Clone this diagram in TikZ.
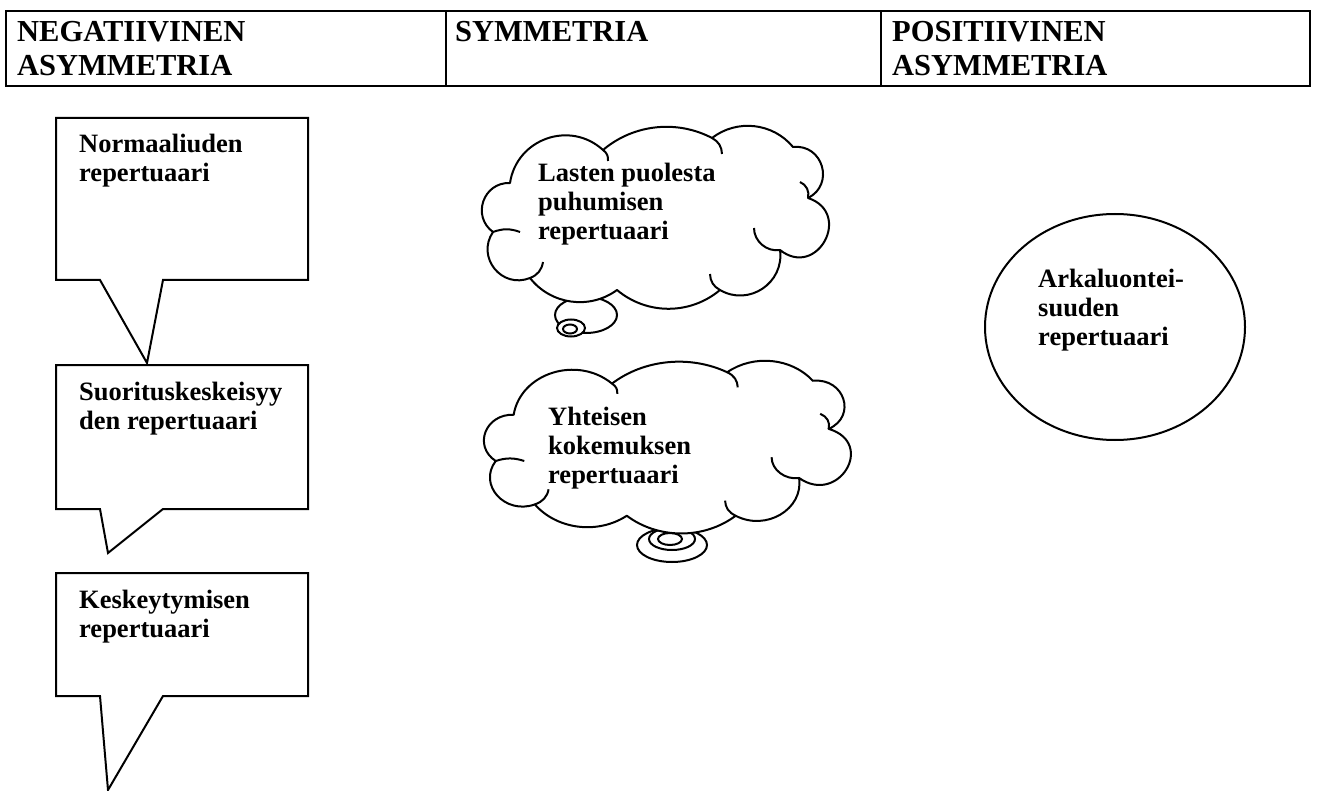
\documentclass[tikz,border=0pt]{standalone}
\usepackage{fontspec}
\setmainfont{Liberation Serif}

\newcommand{\textrows}[1]{\begin{tabular}[t]{@{}l@{}}#1\end{tabular}}

\tikzset{
  outline/.style={draw, line width=2pt},
  repert/.style={anchor=base west, inner sep=0pt, font=\bfseries\fontsize{26.5}{29}\selectfont},
  colhead/.style={anchor=base west, inner sep=0pt, font=\bfseries\fontsize{30.5}{34}\selectfont},
  thought/.pic={
    \draw[outline, fill=white, line join=round]
      (-146,-31) to[bend left=62, looseness=1.16] (-53,-64)
      to[bend left=34, looseness=0.93] (56,-76)
      to[bend left=44, looseness=0.99] (137,-67)
      to[bend left=80, looseness=1.45] (152,-16)
      to[bend left=100, looseness=2.06] (124,36)
      to[bend left=64, looseness=1.18] (64,76)
      to[bend left=40, looseness=0.97] (-39,76)
      to[bend left=44, looseness=0.99] (-126,64)
      to[bend left=73, looseness=1.32] (-163,18)
      to[bend left=73, looseness=1.32] (-146,-31) -- cycle;
    \draw[line width=2pt]
      (-53,-64) to[bend left=30] (-48,-53)
      (56,-76) to[bend left=30] (66,-60)
      (152,-16) to[bend right=40] (144,-32)
      (124,36) to[bend left=50] (98,14)
      (64,76) to[bend left=30] (54,60)
      (-126,64) to[bend right=30] (-113,48)
      (-163,18) to[bend left=20] (-136,18);
  }
}

\begin{document}
\begin{tikzpicture}[x=1pt, y=-1pt]
\useasboundingbox (0,0) rectangle (1319,791);

\draw[line width=1.8pt] (6,11) rectangle (1310,86) (446,11) -- (446,86) (881,11) -- (881,86);
\node[colhead] (negat) at (17,42) {\textrows{NEGATIIVINEN\\ASYMMETRIA}};
\node[colhead] (symm) at (455,42) {SYMMETRIA};
\node[colhead] (posit) at (892,42) {\textrows{POSITIIVINEN\\ASYMMETRIA}};

\foreach \ytop/\ybot/\tipx/\tipy in {118/280/147/363, 365/509/108/553, 573/696/108/790}
  \draw[outline] (56,\ytop) -- (308,\ytop) -- (308,\ybot) -- (163,\ybot) -- (\tipx,\tipy) -- (100,\ybot) -- (56,\ybot) -- cycle;

\node[repert] (normaali) at (79,153) {\textrows{Normaaliuden\\repertuaari}};
\node[repert] (suoritus) at (79,400) {\textrows{Suorituskeskeisyy\\den repertuaari}};
\node[repert] (keskeyt) at (79,608) {\textrows{Keskeytymisen\\repertuaari}};

% bubbles under the clouds
\foreach \cx/\cy/\rx/\ry in {586/315/31/18, 571/328/14/8.5, 570/329/7/4.5, 672/545/35/17, 672/539/23/11, 670/539/12/6}
  \draw[outline, fill=white] (\cx,\cy) ellipse [x radius=\rx, y radius=\ry];

\pic (lastenpilvi) at (656,214) {thought};
\pic[xscale=1.057, yscale=0.944] (yhteinenpilvi) at (668,444) {thought};

\node[repert] (lasten) at (538,182) {\textrows{Lasten puolesta\\puhumisen\\repertuaari}};
\node[repert] (yhteinen) at (548,425) {\textrows{Yhteisen\\kokemuksen\\repertuaari}};

\draw[outline] (1115,327) ellipse [x radius=130, y radius=113];
\node[repert] (arka) at (1038,288) {\textrows{Arkaluontei-\\suuden\\repertuaari}};

\end{tikzpicture}
\end{document}
